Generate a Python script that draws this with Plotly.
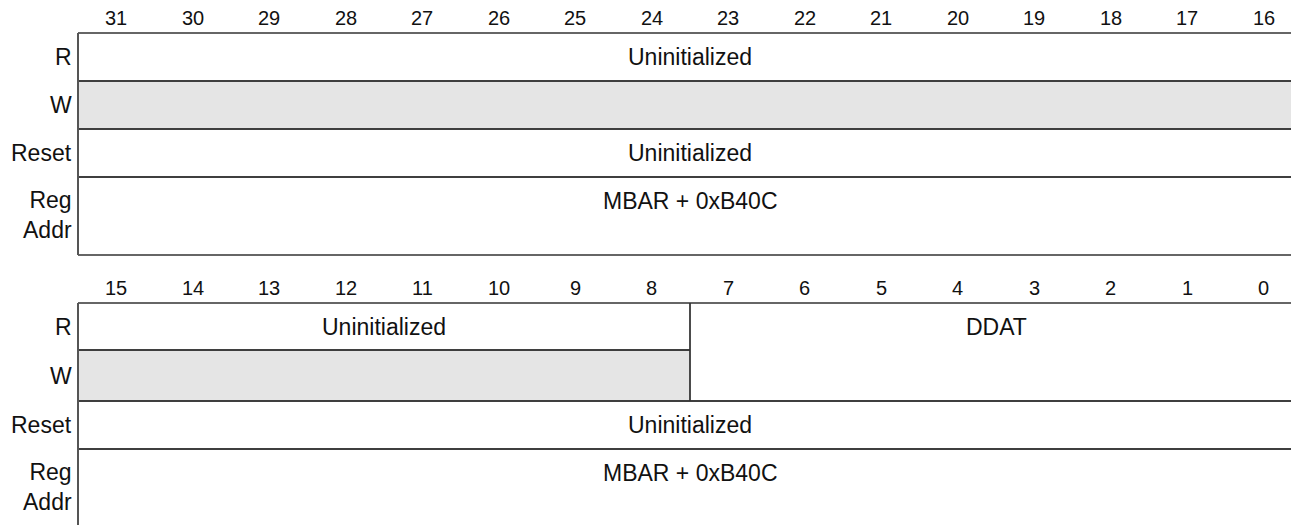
import plotly.graph_objects as go

# ---------------- data ----------------
top_bits = [31, 30, 29, 28, 27, 26, 25, 24, 23, 22, 21, 20, 19, 18, 17, 16]
bottom_bits = [15, 14, 13, 12, 11, 10, 9, 8, 7, 6, 5, 4, 3, 2, 1, 0]
row_labels = ["R", "W", "Reset", "Reg<br>Addr"]

top_field_names = ["Uninitialized", "", "Uninitialized", "MBAR + 0xB40C"]
top_field_msb = [31, 31, 31, 31]
top_field_lsb = [16, 16, 16, 16]
top_field_row_first = [0, 1, 2, 3]
top_field_row_last = [0, 1, 2, 3]
top_field_shaded = [False, True, False, False]

bottom_field_names = ["Uninitialized", "", "DDAT", "Uninitialized", "MBAR + 0xB40C"]
bottom_field_msb = [15, 15, 7, 15, 15]
bottom_field_lsb = [8, 8, 0, 0, 0]
bottom_field_row_first = [0, 1, 0, 2, 3]
bottom_field_row_last = [0, 1, 1, 2, 3]
bottom_field_shaded = [False, True, False, False, False]

# ---------------- layout constants ----------------
PAGE_W, PAGE_H = 1299, 525
BODY = 8                      # default page body margin
W, H = PAGE_W - BODY, PAGE_H - BODY
LEFT = 78                     # page pixel of table left edge
COL_W = 76.5                  # pixel width of one bit column
FONT = "Liberation Sans, Arial, Helvetica, sans-serif"
LINE = "#333333"
SHADE = "#e5e5e5"
NCOL = 16

tables = [
    dict(bits=top_bits, top=33, heights=[48, 48, 48, 78], bit_y=18,
         names=top_field_names, msb=top_field_msb, lsb=top_field_lsb,
         r0=top_field_row_first, r1=top_field_row_last, shaded=top_field_shaded),
    dict(bits=bottom_bits, top=303, heights=[47, 51, 48, 80], bit_y=288,
         names=bottom_field_names, msb=bottom_field_msb, lsb=bottom_field_lsb,
         r0=bottom_field_row_first, r1=bottom_field_row_last, shaded=bottom_field_shaded),
]

fig = go.Figure()
fig.add_trace(go.Scatter(x=[0], y=[100], mode="markers", marker=dict(opacity=0),
                         hoverinfo="skip", showlegend=False))

shapes = []
annotations = []


def hline(x0, x1, y):
    shapes.append(dict(type="line", xref="x", yref="y", x0=x0, x1=x1, y0=y, y1=y,
                       line=dict(color=LINE, width=1.3)))


def vline(x, y0, y1, color=LINE, width=1.3):
    shapes.append(dict(type="line", xref="x", yref="y", x0=x, x1=x, y0=y0, y1=y1,
                       line=dict(color=color, width=width)))


for t in tables:
    bounds = [t["top"]]
    for h in t["heights"]:
        bounds.append(bounds[-1] + h)
    first = t["bits"][0]
    # bit numbers
    for i, b in enumerate(t["bits"]):
        annotations.append(dict(x=i + 0.5, y=t["bit_y"], xref="x", yref="y", text=str(b),
                                showarrow=False, font=dict(family=FONT, size=20, color="#111")))
    # row labels
    for r, lab in enumerate(row_labels):
        y0, y1 = bounds[r], bounds[r + 1]
        annotations.append(dict(x=0, y=(y0 + min(y1, y0 + 76)) / 2, xref="x", yref="y",
                                text=lab, showarrow=False, xanchor="right", xshift=-4,
                                align="right",
                                font=dict(family=FONT, size=23, color="#111")))
    # fields
    for name, msb, lsb, r0, r1, sh in zip(t["names"], t["msb"], t["lsb"], t["r0"], t["r1"], t["shaded"]):
        x0 = first - msb
        x1 = first - lsb + 1
        y0 = bounds[r0]
        y1 = bounds[r1 + 1]
        if sh:
            shapes.append(dict(type="rect", xref="x", yref="y", x0=x0, x1=x1, y0=y0, y1=y1,
                               fillcolor=SHADE, line=dict(width=0), layer="below"))
        hline(x0, x1, y0)
        hline(x0, x1, y1)
        if x0 > 0:
            vline(x0, y0, y1)
        if x1 < NCOL:
            vline(x1, y0, y1)
        if name:
            row_h = bounds[r0 + 1] - bounds[r0]
            ty = y0 + min(row_h, 48) / 2
            annotations.append(dict(x=(x0 + x1) / 2, y=ty, xref="x", yref="y", text=name,
                                    showarrow=False,
                                    font=dict(family=FONT, size=23, color="#111")))
    # left border (slightly heavier)
    vline(0, bounds[0], bounds[-1], color="#555555", width=2)

# axis ranges expressed so that data y == page pixel row, x in bit columns
x_lo = -(LEFT - BODY) / COL_W
x_hi = (PAGE_W - LEFT) / COL_W

fig.update_layout(
    width=W, height=H,
    margin=dict(l=0, r=0, t=0, b=0),
    paper_bgcolor="white", plot_bgcolor="white",
    xaxis=dict(range=[x_lo, x_hi], visible=False, fixedrange=True),
    yaxis=dict(range=[PAGE_H, BODY], visible=False, fixedrange=True),
    shapes=shapes,
    annotations=annotations,
    showlegend=False,
)

fig.write_html("out.html")
